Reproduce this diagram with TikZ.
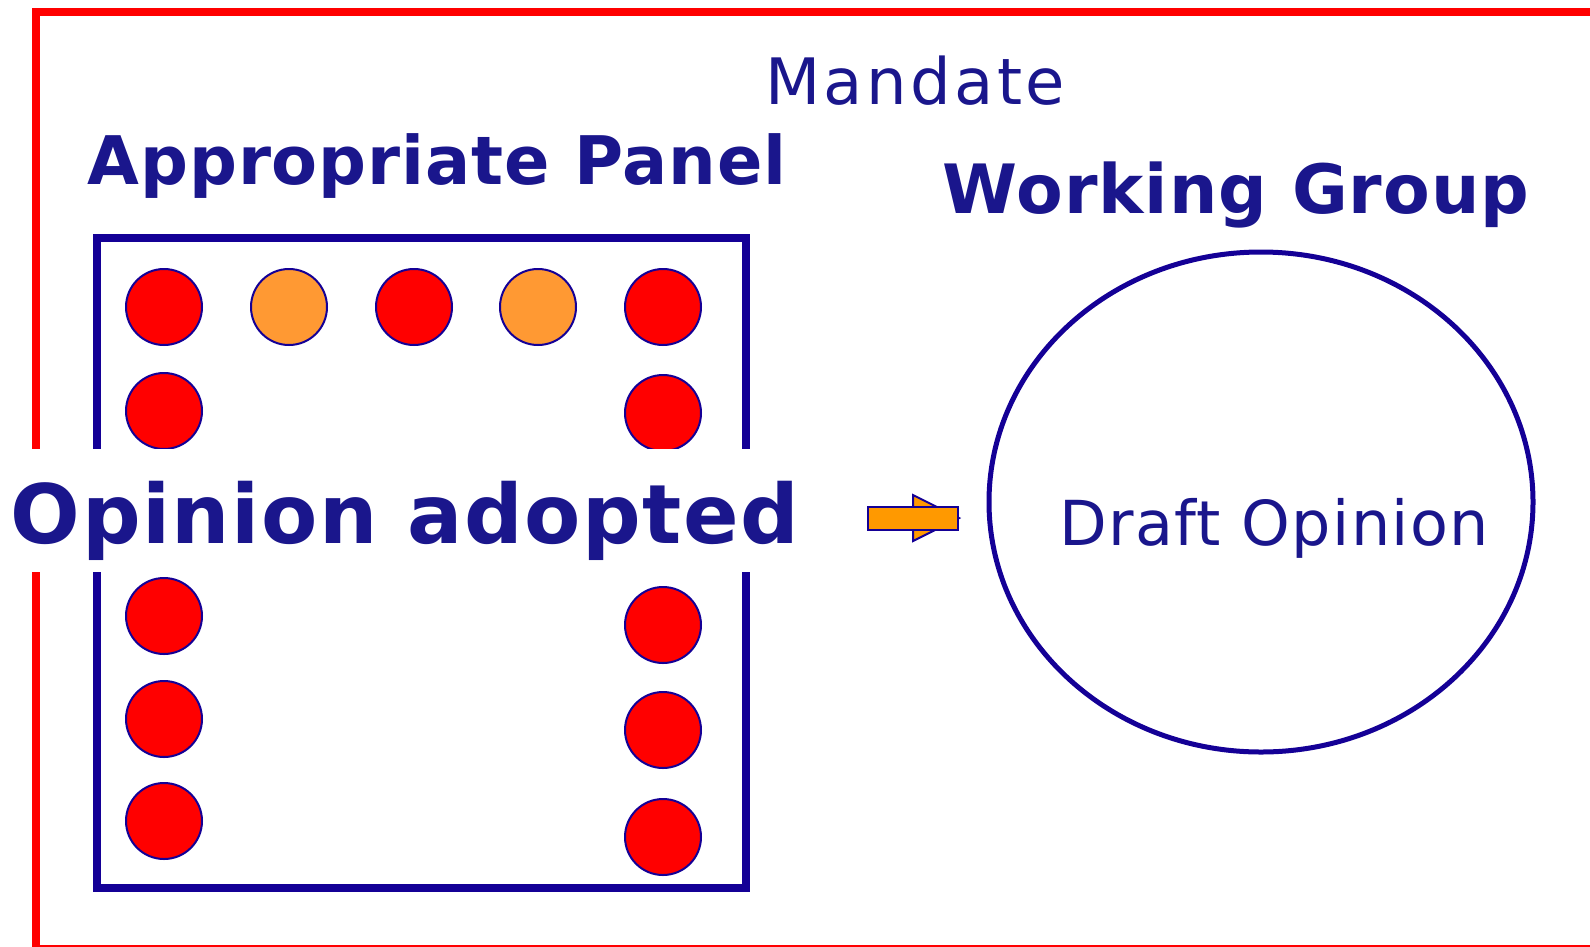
\documentclass[tikz,border=0pt]{standalone}
\usepackage{fontspec}
\setmainfont{DejaVu Sans}
\usetikzlibrary{shapes.geometric}
\definecolor{navy}{RGB}{26,22,140}
\definecolor{boxblue}{RGB}{20,0,150}
\definecolor{frame}{RGB}{255,0,0}
\definecolor{orng}{RGB}{255,153,51}
\definecolor{arrorange}{RGB}{255,153,0}
\tikzset{
  member/.style={circle, fill=red, draw=boxblue, line width=2pt, minimum size=76pt, inner sep=0pt},
  guest/.style={member, fill=orng},
  lbl/.style={anchor=base, inner sep=0pt, text=navy},
}
\begin{document}
\begin{tikzpicture}[x=1pt,y=-1pt]
\useasboundingbox (0,0) rectangle (1590,946);
% red frame
\draw[frame, line width=8pt] (1600,12) -- (36,12) -- (36,949) -- (1600,949);
% panel box
\draw[boxblue, line width=8pt] (97,238) rectangle (746,888);
% members
\node[member] (m1) at (164,307) {};
\node[guest]  (m2) at (289,307) {};
\node[member] (m3) at (414,307) {};
\node[guest]  (m4) at (538,307) {};
\node[member] (m5) at (663,307) {};
\node[member] (m6) at (164,411) {};
\node[member] (m7) at (663,413) {};
\node[member] (m8) at (164,616) {};
\node[member] (m9) at (164,719) {};
\node[member] (m10) at (164,821) {};
\node[member] (m11) at (663,625) {};
\node[member] (m12) at (663,730) {};
\node[member] (m13) at (663,837) {};
% white band behind the main label
\fill[white] (0,449) rectangle (800,572);
% labels
\node[lbl, font=\fontsize{64}{70}\selectfont\addfontfeature{LetterSpace=5.3}] (mandate) at (915,104) {Mandate};
\node[lbl, font=\fontsize{67}{72}\selectfont\bfseries\addfontfeature{LetterSpace=1.3}] (panel) at (437,184) {Appropriate Panel};
\node[lbl, font=\fontsize{68}{72}\selectfont\bfseries\addfontfeature{LetterSpace=1.5}] (wg) at (1236,213) {Working Group};
\node[lbl, font=\fontsize{82}{90}\selectfont\bfseries\addfontfeature{LetterSpace=1.8}] (adopted) at (405,543) {Opinion adopted};
% working group ellipse
\node[ellipse, draw=boxblue, line width=5pt, minimum width=544pt, minimum height=500pt, inner sep=0pt] (group) at (1261,502) {};
\node[lbl, font=\fontsize{62}{70}\selectfont\addfontfeature{LetterSpace=2.1}] (draft) at (1274,545) {Draft Opinion};
% arrow
\filldraw[fill=arrorange, draw=boxblue, line width=2pt] (913,495) -- (959,518) -- (913,541) -- cycle;
\filldraw[fill=arrorange, draw=boxblue, line width=2pt] (868,507) rectangle (958,530);
\end{tikzpicture}
\end{document}
